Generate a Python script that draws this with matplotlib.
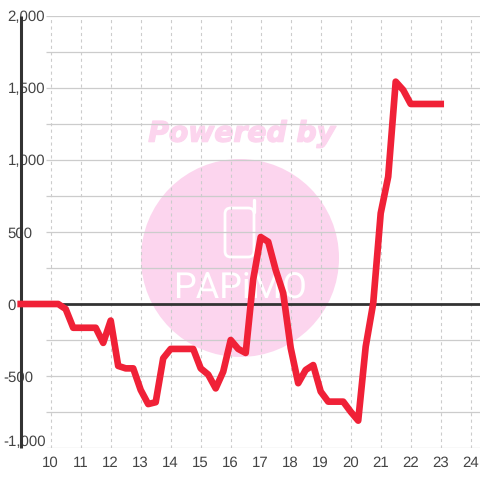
import matplotlib
matplotlib.use('Agg')
import matplotlib.pyplot as plt
import matplotlib.patheffects as pe
from matplotlib.patches import Circle, FancyBboxPatch
from matplotlib.transforms import ScaledTranslation
from matplotlib.ticker import FuncFormatter
import numpy as np

plt.rcParams['font.family'] = ['Liberation Sans', 'DejaVu Sans']
plt.rcParams['text.hinting'] = 'no_hinting'
plt.rcParams['text.hinting_factor'] = 1

hours = [9, 9.25, 9.5, 9.75, 10, 10.25, 10.5, 10.75, 11, 11.25, 11.5, 11.75,
         12, 12.25, 12.5, 12.75, 13, 13.25, 13.5, 13.75, 14, 14.25, 14.5, 14.75,
         15, 15.25, 15.5, 15.75, 16, 16.25, 16.5, 16.75, 17, 17.25, 17.5, 17.75,
         18, 18.25, 18.5, 18.75, 19, 19.25, 19.5, 19.75, 20, 20.25, 20.5, 20.75,
         21, 21.25, 21.5, 21.75, 22, 22.25, 22.5, 22.75, 23]
values = [0, 0, 0, 0, 0, 0, -35, -165, -165, -165, -165, -270,
          -115, -430, -447, -447, -597, -695, -682, -377, -312, -312, -312, -312,
          -447, -490, -586, -470, -250, -312, -340, 170, 465, 432, 236, 76,
          -305, -550, -458, -424, -608, -678, -678, -678, -748, -810, -296, 5,
          630, 884, 1544, 1486, 1389, 1389, 1389, 1389, 1389]
x_ticks = list(range(10, 25))
y_major = [-1000, -500, 0, 500, 1000, 1500, 2000]
y_lines = [-1000, -750, -500, -250, 250, 500, 750, 1000, 1250, 1500, 1750, 2000]

W = 480
fig = plt.figure(figsize=(4.8, 4.8), dpi=100, facecolor='white')
left, top, bottom = 20.7, 16, 448
ax = fig.add_axes([left / W, (W - bottom) / W, (W - left) / W, (bottom - top) / W])
ax.set_xlim(9, 9 + (W - left) / 30)
ax.set_ylim(-1000, 2000)
ax.patch.set_alpha(0)
for s in ('top', 'right', 'bottom'):
    ax.spines[s].set_visible(False)
ax.spines['left'].set_linewidth(2.2)
ax.spines['left'].set_color('#333333')
ax.spines['left'].set_capstyle('butt')

PINK = '#fcd5ee'
fig.add_artist(Circle((240 / W, (W - 258) / W), 99 / W, transform=fig.transFigure,
                      fc=PINK, ec='none', zorder=-5))
fig.text(241 / W, (W - 134) / W, 'Powered by', color=PINK, fontsize=20.3, fontweight='bold',
         fontstyle='italic', family='DejaVu Sans', ha='center', va='center', zorder=-5,
         path_effects=[pe.withStroke(linewidth=1.0, foreground=PINK)])
fig.add_artist(FancyBboxPatch((225 / W, (W - 257) / W), 29 / W, 49 / W,
                              boxstyle='round,pad=0,rounding_size=0.012', transform=fig.transFigure,
                              fc='none', ec='white', lw=2, zorder=-4))
fig.add_artist(plt.Line2D([254 / W, 254 / W], [(W - 212) / W, (W - 200) / W], color='white',
                          lw=2.4, solid_capstyle='round', transform=fig.transFigure, zorder=-4))
fig.text(240 / W, (W - 289) / W, 'PAPiMO', color='white', fontsize=26, family='Roboto',
         ha='center', va='center', zorder=-4)

grid = '#cccccc'
ax.hlines(y_lines, 9 + (46 - left) / 30, ax.get_xlim()[1], color=grid, lw=0.9, zorder=1)
ax.vlines(x_ticks, -1000, 2000, color=grid, lw=0.8, linestyles=(0, (2.8, 3.0)), zorder=1)
ax.axhline(0, color='#333333', lw=2.0, zorder=2)
ax.plot(hours, values, color='#f02137', lw=4.8, solid_capstyle='projecting',
        solid_joinstyle='round', zorder=4, clip_on=False)

ax.set_xticks(x_ticks)
ax.set_yticks(y_major)
ax.yaxis.set_major_formatter(FuncFormatter(lambda v, p: f'{int(v):,}'))
ax.tick_params(axis='both', length=0, labelsize=11, labelcolor='#444444')
ax.tick_params(axis='x', pad=5.5)
ax.tick_params(axis='y', pad=9.5)
fig.canvas.draw()
for t, v in zip(ax.get_yticklabels(), y_major):
    t.set_horizontalalignment('left')
    if v != 0:
        t.set_bbox(dict(fc='white', ec='none', pad=1))
    if v < 0:
        dy = -1.5 if v == -1000 else 0
        t.set_transform(t.get_transform() + ScaledTranslation(-4.5 / 100, dy / 100, fig.dpi_scale_trans))
    if v == -1000:
        t.set_verticalalignment('bottom')
fig.savefig('out.png', dpi=100)
